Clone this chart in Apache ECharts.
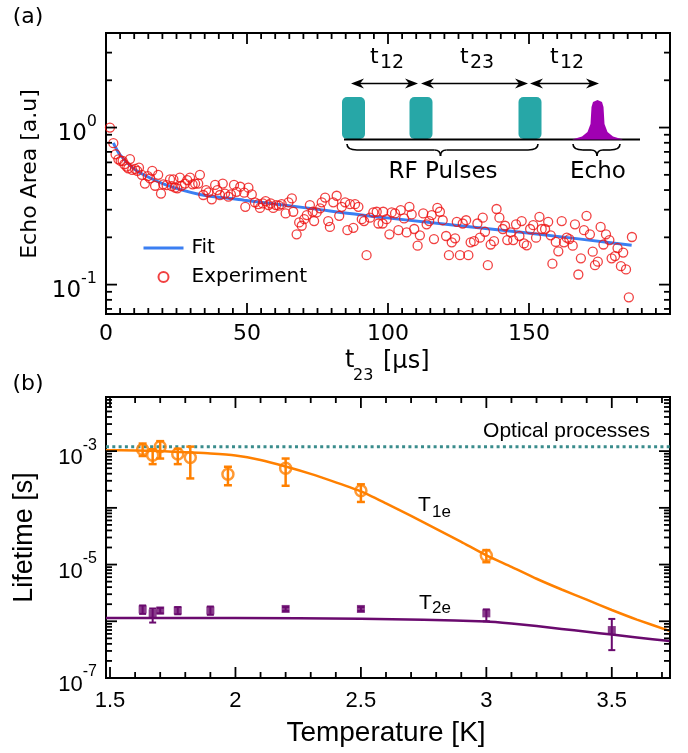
<!DOCTYPE html>
<html><head><meta charset="utf-8">
<script src="https://cdn.jsdelivr.net/npm/echarts@6/dist/echarts.min.js"></script>
<style>html,body{margin:0;padding:0;background:#fff}#c{width:688px;height:753px}</style>
</head><body><div id="c"></div>
<script>
// ---------- data ----------
const echoData = [
[1.4,1.0],[2.6,0.795],[3.4,0.676],[4.4,0.628],[5.2,0.613],[5.9,0.613],[6.5,0.584],[7.3,0.564],[7.9,0.55],[8.5,0.63],
[9.3,0.537],[10.3,0.545],[11.1,0.53],[11.7,0.555],[12.7,0.5],[13.8,0.44],[14.8,0.49],[15.6,0.475],[16.4,0.53],[17.4,0.426],
[18.5,0.5],[19.5,0.38],[20.3,0.435],[21.5,0.43],[22.7,0.468],[23.3,0.424],[23.9,0.468],[24.5,0.414],[25.3,0.41],[26.2,0.48],
[26.8,0.426],[28,0.44],[28.8,0.463],[29.8,0.48],[30.7,0.435],[31.6,0.44],[32.7,0.44],[33.3,0.5],[34.5,0.372],[35.5,0.4],
[36.3,0.387],[37.5,0.349],[38.7,0.431],[39.5,0.40],[40.4,0.372],[41.4,0.44],[42.2,0.38],[43.4,0.363],[44.3,0.375],[45.4,0.431],
[46.3,0.39],[47.6,0.42],[49.0,0.385],[49.4,0.313],[50.5,0.414],[51.7,0.375],[52.8,0.334],[54,0.325],[54.6,0.308],[55.6,0.329],
[56.6,0.34],[57.6,0.321],[58.4,0.329],[59.3,0.308],[60.3,0.321],[61.3,0.318],[62.3,0.325],[63.7,0.284],[64.7,0.334],[65.9,0.354],
[66.4,0.291],[67.6,0.209],[68.5,0.249],[69.4,0.237],[70.3,0.261],[71.2,0.277],[72.3,0.321],[73.3,0.291],[73.8,0.254],[74.7,0.288],
[75.9,0.306],[76.5,0.334],[77.7,0.358],[78.8,0.254],[79.4,0.233],[80.6,0.334],[81.8,0.368],[82.7,0.274],[83.6,0.313],[84.8,0.334],
[85.6,0.222],[86.5,0.325],[87.7,0.23],[88.3,0.325],[89.5,0.313],[90.7,0.261],[91.5,0.254],[92.4,0.154],[93.6,0.267],[94.8,0.288],
[96,0.291],[96.6,0.245],[98.1,0.245],[98.3,0.291],[99.5,0.261],[100.5,0.209],[101.3,0.288],[102.5,0.284],[103.7,0.222],[104.5,0.298],
[105.7,0.264],[106.6,0.215],[107.6,0.313],[108.4,0.28],[109.3,0.226],[110.5,0.177],[111.3,0.206],[112.5,0.284],[113.7,0.242],[114.6,0.254],
[115.5,0.277],[116.3,0.195],[117.5,0.308],[118.4,0.291],[119.4,0.257],[120.6,0.204],[121.6,0.154],[122.6,0.186],[123.8,0.197],[124.4,0.251],
[125.5,0.154],[126.5,0.245],[127.7,0.257],[128.5,0.154],[129.3,0.186],[130.5,0.189],[131.7,0.245],[132.6,0.199],[133.6,0.267],[134.4,0.217],
[135.4,0.133],[136.4,0.18],[137.6,0.189],[138.5,0.303],[139.5,0.267],[140.7,0.226],[141.5,0.237],[142.3,0.192],[143.5,0.215],[144.4,0.192],
[145.4,0.242],[146.6,0.204],[147.4,0.254],[148.2,0.183],[149.2,0.178],[150.4,0.226],[151.5,0.239],[152.5,0.199],[153.7,0.27],[154.5,0.226],
[155.7,0.226],[156.8,0.251],[157.7,0.206],[158.3,0.136],[159.5,0.187],[160.4,0.163],[161.6,0.254],[162.4,0.186],[163.4,0.199],[164.3,0.195],
[165.5,0.177],[166.3,0.242],[167.5,0.116],[168.4,0.147],[169.5,0.222],[170.4,0.274],[171.6,0.209],[172.6,0.162],[173.4,0.133],[174.4,0.14],
[175.4,0.233],[176.4,0.18],[177.3,0.209],[178.5,0.192],[179.3,0.147],[180.5,0.152],[181.4,0.171],[182.6,0.131],[183.4,0.16],[184.4,0.125],
[185.4,0.083],[186.5,0.201]
];
const echoFit = [[2.6,0.80],[5,0.67],[9.7,0.55],[14.4,0.49],[21.5,0.43],[33.3,0.375],[49,0.345],[71,0.308],[98,0.268],[148,0.215],[186.4,0.178]];

// [T, value, low, high]
const t1eData = [
[1.63,1.07e-3,8.2e-4,1.36e-3],[1.67,8.5e-4,5.9e-4,1.08e-3],[1.70,1.19e-3,7.4e-4,1.5e-3],[1.77,8.9e-4,5.9e-4,1.1e-3],
[1.82,7.75e-4,3.3e-4,1.2e-3],[1.97,3.9e-4,2.5e-4,5.3e-4],[2.20,5.0e-4,2.45e-4,7.4e-4],[2.50,2.0e-4,1.27e-4,2.6e-4],
[3.00,1.45e-5,1.1e-5,1.8e-5]
];
const t2eData = [
[1.63,1.62e-6,1.35e-6,1.9e-6],[1.67,1.38e-6,9.5e-7,1.68e-6],[1.70,1.55e-6,1.38e-6,1.72e-6],[1.77,1.55e-6,1.33e-6,1.78e-6],
[1.90,1.55e-6,1.3e-6,1.82e-6],[2.20,1.65e-6,1.52e-6,1.78e-6],[2.50,1.65e-6,1.52e-6,1.78e-6],[3.00,1.38e-6,1.0e-6,1.62e-6],
[3.50,7.0e-7,3.1e-7,1.1e-6]
];
const t1eFit = [[1.484,1.04e-3],[1.6,1.023e-3],[1.7,1.0e-3],[1.8,9.55e-4],[1.9,9.12e-4],[2.0,8.41e-4],[2.1,7.0e-4],[2.2,5.37e-4],
[2.3,3.98e-4],[2.4,2.82e-4],[2.5,1.95e-4],[2.6,1.2e-4],[2.7,7.24e-5],[2.8,4.27e-5],[2.9,2.51e-5],[3.0,1.45e-5],[3.1,9.12e-6],
[3.2,5.62e-6],[3.3,3.63e-6],[3.4,2.4e-6],[3.5,1.58e-6],[3.6,1.07e-6],[3.73,6.76e-7]];
const t2eFit = [[1.484,1.148e-6],[2.0,1.148e-6],[2.5,1.11e-6],[2.75,1.06e-6],[3.0,9.9e-7],[3.1,9.12e-7],[3.2,8.22e-7],[3.3,7.33e-7],
[3.4,6.53e-7],[3.5,5.82e-7],[3.6,5.19e-7],[3.73,4.47e-7]];
const opticalLevel = 1.19e-3;

const topXRange = [0, 200], topYRange = [0.065, 4];
const botXRange = [1.484, 3.732], botYRange = [1e-7, 9e-3];
const topXMajor = [0, 50, 100, 150];
const botXMajor = [1.5, 2, 2.5, 3, 3.5];

// ---------- tick decoration values ----------
const topXMinor = []; for (let v = 5; v < 200; v += 5) if (v % 50) topXMinor.push(v);
const topYMajor = [0.1, 1];
const topYMinor = [0.07, 0.08, 0.09, 0.2, 0.3, 0.4, 0.5, 0.6, 0.7, 0.8, 0.9, 2, 3];
const botXMinor = []; for (let k = 16; k <= 37; k++) if (k % 5) botXMinor.push(k / 10);
const botYMajor = [], botYMinor = [];
for (let e = -7; e <= -3; e++) { botYMajor.push(Math.pow(10, e)); for (let k = 2; k <= 9; k++) botYMinor.push(k * Math.pow(10, e)); }

const BLUE = '#3b7ff2', RED = '#ee1111', ORANGE = '#ff8000', PURPLE = '#6a0a6e', TEAL = '#3a8c8c';
const DV = "'DejaVu Sans', Verdana, sans-serif", AR = "'Liberation Sans', Arial, sans-serif";

function buildTicks(xMaj, xMin, yMaj, yMin, xRef, yRef) {
  const d = [];
  xMaj.forEach(v => d.push([v, yRef, 0]));
  xMin.forEach(v => d.push([v, yRef, 1]));
  yMaj.forEach(v => d.push([xRef, v, 2]));
  yMin.forEach(v => d.push([xRef, v, 3]));
  return d;
}
function tickRender(params, api) {
  const cs = params.coordSys;
  const kind = api.value(2);
  const len = kind % 2 === 0 ? 11 : 6;
  const st = {stroke: '#000', lineWidth: 1.8};
  const p = api.coord([api.value(0), api.value(1)]);
  if (kind < 2) {
    const x = p[0], b = cs.y + cs.height, t = cs.y;
    return {type: 'group', children: [
      {type: 'line', shape: {x1: x, y1: b, x2: x, y2: b - len}, style: st},
      {type: 'line', shape: {x1: x, y1: t, x2: x, y2: t + len}, style: st}]};
  }
  const y = p[1], l = cs.x, r = cs.x + cs.width;
  return {type: 'group', children: [
    {type: 'line', shape: {x1: l, y1: y, x2: l + len, y2: y}, style: st},
    {type: 'line', shape: {x1: r, y1: y, x2: r - len, y2: y}, style: st}]};
}
function errRender(color, w, cap) {
  return function (params, api) {
    const x = api.value(0);
    const lo = api.coord([x, api.value(2)]);
    const hi = api.coord([x, api.value(3)]);
    const st = {stroke: color, lineWidth: w};
    return {type: 'group', children: [
      {type: 'line', shape: {x1: lo[0], y1: lo[1], x2: hi[0], y2: hi[1]}, style: st},
      {type: 'line', shape: {x1: lo[0] - cap, y1: lo[1], x2: lo[0] + cap, y2: lo[1]}, style: st},
      {type: 'line', shape: {x1: hi[0] - cap, y1: hi[1], x2: hi[0] + cap, y2: hi[1]}, style: st}]};
  };
}
function powLabel(onlyOdd) {
  return function (v) {
    const lg = Math.log10(v), e = Math.round(lg);
    if (Math.abs(lg - e) > 1e-6) return '';
    if (onlyOdd && e % 2 === 0) return '';
    return '{b|10}{s|' + e + '}';
  };
}
function richFor(fam, big, small) {
  return {
    b: {fontSize: big, fontFamily: fam, color: '#000', lineHeight: 36, verticalAlign: 'bottom'},
    s: {fontSize: small, fontFamily: fam, color: '#000', lineHeight: 36, verticalAlign: 'top', padding: [4, 0, 0, 0]}
  };
}

// ---------- inset diagram helpers ----------
function arrow(x1, x2, y) {
  const h = 13, w = 5, n = 4;
  return [
    {type: 'line', shape: {x1: x1 + 4, y1: y, x2: x2 - 4, y2: y}, style: {stroke: '#000', lineWidth: 1.6}},
    {type: 'polygon', shape: {points: [[x1, y], [x1 + h, y - w], [x1 + h - n, y], [x1 + h, y + w]]}, style: {fill: '#000'}},
    {type: 'polygon', shape: {points: [[x2, y], [x2 - h, y - w], [x2 - h + n, y], [x2 - h, y + w]]}, style: {fill: '#000'}}
  ];
}
function brace(x1, x2, tip, yTop, yMid, yTip) {
  const st = {stroke: '#000', lineWidth: 1.6, fill: 'none'};
  return [
    {type: 'bezierCurve', shape: {x1: x1, y1: yTop, cpx1: x1, cpy1: yMid, x2: x1 + 10, y2: yMid}, style: st},
    {type: 'line', shape: {x1: x1 + 10, y1: yMid, x2: tip - 6, y2: yMid}, style: st},
    {type: 'bezierCurve', shape: {x1: tip - 6, y1: yMid, cpx1: tip, cpy1: yMid, x2: tip, y2: yTip}, style: st},
    {type: 'bezierCurve', shape: {x1: tip + 6, y1: yMid, cpx1: tip, cpy1: yMid, x2: tip, y2: yTip}, style: st},
    {type: 'line', shape: {x1: tip + 6, y1: yMid, x2: x2 - 10, y2: yMid}, style: st},
    {type: 'bezierCurve', shape: {x1: x2 - 10, y1: yMid, cpx1: x2, cpy1: yMid, x2: x2, y2: yTop}, style: st}
  ];
}
function txt(x, y, s, size, fam, align, rot) {
  return {type: 'text', x: x, y: y, rotation: rot || 0, z: 20,
    style: {text: s, fontSize: size, fontFamily: fam, fill: '#000', align: align || 'left', verticalAlign: 'middle'}};
}
const pulse = (x) => ({type: 'rect', shape: {x: x, y: 97, width: 23, height: 42, r: 5}, style: {fill: '#27a7a7'}});

const graphics = [].concat(
  [pulse(342), pulse(409.5), pulse(518.5),
   {type: 'line', shape: {x1: 344, y1: 139.5, x2: 640, y2: 139.5}, style: {stroke: '#000', lineWidth: 2}},
   {type: 'polygon', shape: {points: [[572,139.5],[582,136.5],[587.5,132],[590.5,124],[591.5,107],[593,102],[597.5,100],[602,102],[603.5,107],[604.5,124],[607.5,132],[613,136.5],[623,139.5]]}, style: {fill: '#a000b2'}}],
  arrow(351, 418, 83.5), arrow(421, 528, 83.5), arrow(530, 599, 83.5),
  brace(347, 538, 440.5, 144, 150, 156), brace(573, 620, 597, 144, 150, 156),
  [txt(370, 57, 't', 22, DV), txt(380, 63.5, '12', 19, DV),
   txt(460, 57, 't', 22, DV), txt(470, 63.5, '23', 19, DV),
   txt(550, 57, 't', 22, DV), txt(560, 63.5, '12', 19, DV),
   txt(443, 172, 'RF Pulses', 23, DV, 'center'), txt(598, 172, 'Echo', 23, DV, 'center'),
   txt(28, 17, '(a)', 22, DV, 'center'), txt(28, 384, '(b)', 22, DV, 'center'),
   txt(30, 174, 'Echo Area [a.u]', 22, DV, 'center', Math.PI / 2),
   txt(345, 361, 't', 24, DV), txt(353, 376, '23', 16, DV), txt(383, 362, '[μs]', 24, DV),
   txt(25, 537.5, 'Lifetime [s]', 27, AR, 'center', Math.PI / 2),
   txt(386, 733, 'Temperature [K]', 28, AR, 'center'),
   txt(650, 431, 'Optical processes', 21, AR, 'right'),
   txt(418, 505.5, 'T', 21, AR), txt(432, 512, '1e', 17, AR),
   txt(419, 603, 'T', 21, AR), txt(432, 608.5, '2e', 17, AR)]
);

const chart = echarts.init(document.getElementById('c'));
chart.setOption({
  animation: false,
  backgroundColor: '#fff',
  grid: [
    {left: 106, top: 33, width: 564, height: 281, show: true, borderColor: '#000', borderWidth: 2, backgroundColor: 'transparent'},
    {left: 106, top: 397, width: 564, height: 281, show: true, borderColor: '#000', borderWidth: 2, backgroundColor: 'transparent'}
  ],
  legend: {
    data: [{name: 'Fit', itemStyle: {opacity: 0, color: 'rgba(0,0,0,0)', borderWidth: 0}, lineStyle: {width: 3, color: BLUE}}, {name: 'Experiment'}],
    orient: 'vertical', left: 137, top: 233, itemWidth: 40, itemHeight: 10, itemGap: 9,
    textStyle: {fontSize: 20, fontFamily: DV, color: '#000', padding: [0, 0, 0, 3]}
  },
  xAxis: [
    {gridIndex: 0, type: 'value', min: topXRange[0], max: topXRange[1], interval: 50,
     axisLine: {show: false}, axisTick: {show: false}, splitLine: {show: false},
     axisLabel: {fontSize: 22, fontFamily: DV, color: '#000', margin: 9,
       formatter: v => topXMajor.indexOf(v) >= 0 ? String(v) : ''}},
    {gridIndex: 1, type: 'value', min: botXRange[0], max: botXRange[1],
     axisLine: {show: false}, axisTick: {show: false}, splitLine: {show: false},
     axisLabel: {fontSize: 22, fontFamily: AR, color: '#000', margin: 12, showMinLabel: true, showMaxLabel: true,
       formatter: v => botXMajor.some(m => Math.abs(m - v) < 1e-6) ? String(Math.round(v * 10) / 10) : ''}}
  ],
  yAxis: [
    {gridIndex: 0, type: 'log', logBase: 10, min: topYRange[0], max: topYRange[1],
     axisLine: {show: false}, axisTick: {show: false}, splitLine: {show: false},
     axisLabel: {margin: 9, formatter: powLabel(false), rich: richFor(DV, 23, 16)}},
    {gridIndex: 1, type: 'log', logBase: 10, min: botYRange[0], max: botYRange[1],
     axisLine: {show: false}, axisTick: {show: false}, splitLine: {show: false},
     axisLabel: {margin: 9, formatter: powLabel(true), rich: richFor(AR, 22, 16)}}
  ],
  graphic: {elements: graphics},
  series: [
    {type: 'custom', xAxisIndex: 0, yAxisIndex: 0, renderItem: tickRender, encode: {x: 0, y: 1}, silent: true, z: 10,
     data: buildTicks(topXMajor, topXMinor, topYMajor, topYMinor, topXRange[0], topYRange[0])},
    {name: 'Fit', type: 'line', xAxisIndex: 0, yAxisIndex: 0, data: echoFit, smooth: 0.3, symbol: 'none',
     lineStyle: {color: BLUE, width: 3}, itemStyle: {color: BLUE}, z: 3},
    {name: 'Experiment', type: 'scatter', xAxisIndex: 0, yAxisIndex: 0, data: echoData, symbol: 'circle', symbolSize: 9,
     itemStyle: {color: 'rgba(255,255,255,0)', borderColor: RED, borderWidth: 1.3}, z: 4},

    {type: 'custom', xAxisIndex: 1, yAxisIndex: 1, renderItem: tickRender, encode: {x: 0, y: 1}, silent: true, z: 10,
     data: buildTicks(botXMajor, botXMinor, botYMajor, botYMinor, botXRange[0], botYRange[0])},
    {type: 'line', xAxisIndex: 1, yAxisIndex: 1, data: [[botXRange[0], opticalLevel], [botXRange[1], opticalLevel]], symbol: 'none',
     lineStyle: {color: TEAL, width: 3, type: [3, 3.3]}, z: 2},
    {type: 'line', xAxisIndex: 1, yAxisIndex: 1, data: t1eFit, smooth: 0.2, symbol: 'none', lineStyle: {color: ORANGE, width: 2.5}, z: 3},
    {type: 'line', xAxisIndex: 1, yAxisIndex: 1, data: t2eFit, smooth: 0.2, symbol: 'none', lineStyle: {color: PURPLE, width: 2.5}, z: 3},
    {type: 'custom', xAxisIndex: 1, yAxisIndex: 1, renderItem: errRender(ORANGE, 2.5, 4), encode: {x: 0, y: 1}, data: t1eData, z: 4},
    {type: 'custom', xAxisIndex: 1, yAxisIndex: 1, renderItem: errRender(PURPLE, 2, 3.5), encode: {x: 0, y: 1}, data: t2eData, z: 4},
    {type: 'scatter', xAxisIndex: 1, yAxisIndex: 1, data: t1eData.map(d => [d[0], d[1]]), symbol: 'circle', symbolSize: 11,
     itemStyle: {color: 'rgba(255,255,255,0)', borderColor: ORANGE, borderWidth: 2.5}, z: 5},
    {type: 'scatter', xAxisIndex: 1, yAxisIndex: 1, data: t2eData.map(d => [d[0], d[1]]), symbol: 'rect', symbolSize: 8,
     itemStyle: {color: PURPLE}, z: 5}
  ]
});
</script></body></html>
